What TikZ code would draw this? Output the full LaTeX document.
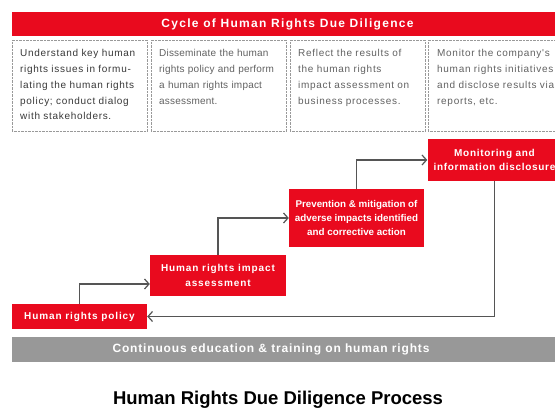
\documentclass[tikz,border=0pt]{standalone}
\usepackage{fontspec}
\setmainfont{Liberation Sans}
\newfontfamily\tight[LetterSpace=2]{Liberation Sans}
\newfontfamily\spaced[LetterSpace=7]{Liberation Sans}
\newfontfamily\wide[LetterSpace=9]{Liberation Sans}
\newfontfamily\widest[LetterSpace=11]{Liberation Sans}
\usetikzlibrary{arrows.meta,positioning,calc}

\definecolor{hrred}{RGB}{233,10,30}
\definecolor{hrgray}{RGB}{152,152,152}
\definecolor{linegray}{RGB}{85,85,85}

\tikzset{
  redbox/.style={fill=hrred,text=white,inner sep=0pt,align=center,
    font=\wide\bfseries\fontsize{10}{14.5}\selectfont},
  descbox/.style={draw=gray!80,densely dotted,inner sep=0pt,
    minimum width=135pt,minimum height=91pt,anchor=north west},
  desctext/.style={anchor=north west,inner sep=0pt,text width=128pt,align=left,
    text=black!62,font=\spaced\fontsize{10}{15.7}\selectfont},
  flow/.style={draw=linegray,line width=1.2pt,
    -{Straight Barb[length=4.5pt,width=10pt,line width=1.2pt]}},
}

\begin{document}
\begin{tikzpicture}[x=1pt,y=-1pt]
  \useasboundingbox (0,0) rectangle (555,409);
  \clip (0,0) rectangle (555,409);
  % Header bar
  \fill[hrred] (12,12) rectangle (570,36);
  \node[text=white,font=\widest\bfseries\fontsize{12}{14}\selectfont] (title) at (287.5,24)
    {Cycle of Human Rights Due Diligence};
  % Description boxes
  \node[descbox] (d1) at (12,40) {};
  \node[descbox] (d2) at (151,40) {};
  \node[descbox] (d3) at (290,40) {};
  \node[descbox] (d4) at (428,40) {};
  \node[desctext,text=black!78] (t1) at ([xshift=8pt,yshift=-9.5pt]d1.north west)
    {Understand key human\\rights issues in formu-\\lating the human rights\\policy; conduct dialog\\with stakeholders.};
  \node[desctext,font=\tight\fontsize{10}{15.7}\selectfont] (t2) at ([xshift=8pt,yshift=-9.5pt]d2.north west)
    {Disseminate the human\\rights policy and perform\\a human rights impact\\assessment.};
  \node[desctext] (t3) at ([xshift=8pt,yshift=-9.5pt]d3.north west)
    {Reflect the results of\\the human rights\\impact assessment on\\business processes.};
  \node[desctext] (t4) at ([xshift=9pt,yshift=-9.5pt]d4.north west)
    {Monitor the company's\\human rights initiatives\\and disclose results via\\reports, etc.};
  % Process steps
  \node[redbox,minimum width=135pt,minimum height=25pt] (policy) at (79.5,316.5)
    {Human rights policy};
  \node[redbox,minimum width=136pt,minimum height=41pt] (impact) at (218,275.5)
    {Human rights impact\\assessment};
  \node[redbox,minimum width=135pt,minimum height=58pt,
    font=\bfseries\fontsize{9.8}{14}\selectfont] (prevent) at (356.5,218)
    {Prevention \& mitigation of\\adverse impacts identified\\and corrective action};
  \node[redbox,minimum width=134pt,minimum height=42pt,
    font=\spaced\bfseries\fontsize{10}{14.5}\selectfont] (monitor) at (494.5,160)
    {Monitoring and\\information disclosure};
  % Connectors
  \draw[flow] (policy.north) |- ([yshift=-8.5pt]impact.west);
  \draw[flow] (impact.north) |- (prevent.west);
  \draw[flow] (prevent.north) |- (monitor.west);
  \draw[flow] (monitor.south) |- (policy.east);
  % Bottom bar
  \fill[hrgray] (12,337) rectangle (570,362);
  \node[text=white,font=\spaced\bfseries\fontsize{12}{14}\selectfont] (edu) at (271,349.5)
    {Continuous education \& training on human rights};
  % Caption
  \node[font=\bfseries\fontsize{18.5}{22}\selectfont] (caption) at (278,400)
    {Human Rights Due Diligence Process};
\end{tikzpicture}
\end{document}
